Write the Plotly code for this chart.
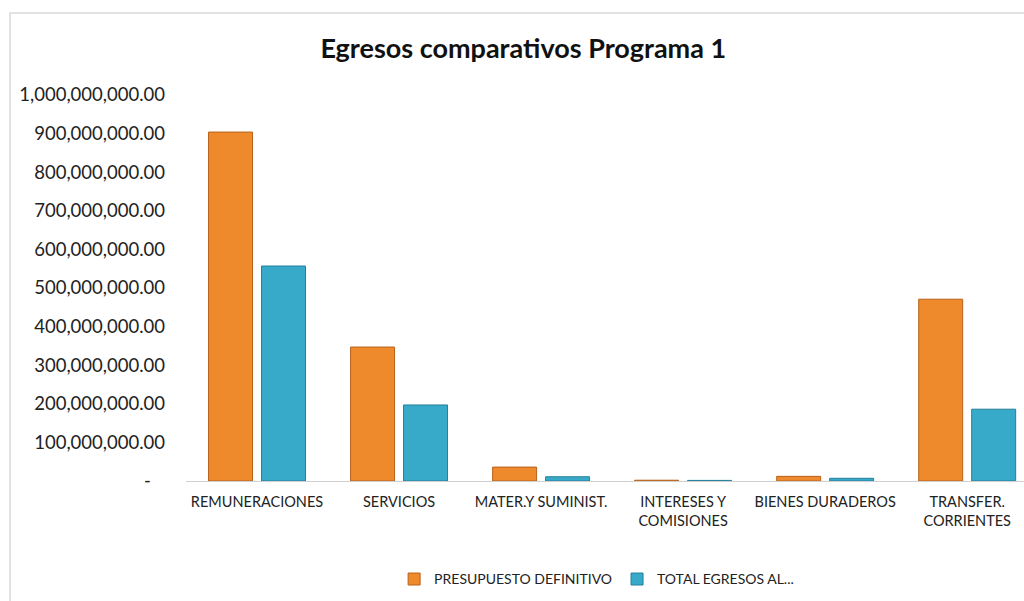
import plotly.graph_objects as go

categorias = ["REMUNERACIONES", "SERVICIOS", "MATER.Y SUMINIST.",
              "INTERESES Y<br>COMISIONES", "BIENES DURADEROS", "TRANSFER.<br>CORRIENTES"]
presupuesto = [904e6, 347e6, 36e6, 2e6, 12e6, 471e6]
egresos = [557e6, 197e6, 11e6, 1.5e6, 7e6, 186e6]

tick_vals = [i * 100e6 for i in range(11)]
tick_text = ["-\u00a0\u00a0\u00a0"] + ["{:,.2f}".format(v) for v in tick_vals[1:]]

fig = go.Figure()
fig.add_trace(go.Bar(
    x=categorias, y=presupuesto, name="PRESUPUESTO DEFINITIVO",
    marker=dict(color='#EE892C', line=dict(color='#B8621C', width=1)),
))
fig.add_trace(go.Bar(
    x=categorias, y=egresos, name="TOTAL EGRESOS AL...",
    marker=dict(color='#37AACA', line=dict(color='#24809A', width=1)),
))

fig.update_layout(
    width=1024, height=601,
    font=dict(family='Lato', color='#222222'),
    title=dict(text='<b>Egresos comparativos Programa 1</b>', x=0.511, xanchor='center',
               y=0.92, yanchor='middle', font=dict(size=27, color='#111111')),
    barmode='group', bargap=0.254, bargroupgap=0.17,
    xaxis=dict(
        range=[-0.5, 5.4],
        showline=True, linecolor='#d0d0d0', linewidth=1,
        showgrid=False, ticks='', tickfont=dict(size=14.5),
        ticklabelstandoff=8,
    ),
    yaxis=dict(
        range=[0, 1e9], tickvals=tick_vals, ticktext=tick_text,
        showgrid=False, zeroline=False, showline=False,
        tickfont=dict(size=18.5), ticks='', ticklabelstandoff=20,
    ),
    legend=dict(orientation='h', x=0.49, xanchor='center', y=-0.255, yanchor='middle',
                font=dict(size=14), itemwidth=30),
    margin=dict(l=186, r=0, t=95, b=120),
    paper_bgcolor='white', plot_bgcolor='white',
    shapes=[dict(type='rect', xref='paper', yref='paper',
                 x0=-0.21, x1=1.05, y0=-0.4, y1=1.2124,
                 line=dict(color='#d9d9d9', width=1.5), fillcolor='rgba(0,0,0,0)')],
)

fig.write_html("out.html", config={'displayModeBar': False},
               post_script="document.body.style.margin='0';")
